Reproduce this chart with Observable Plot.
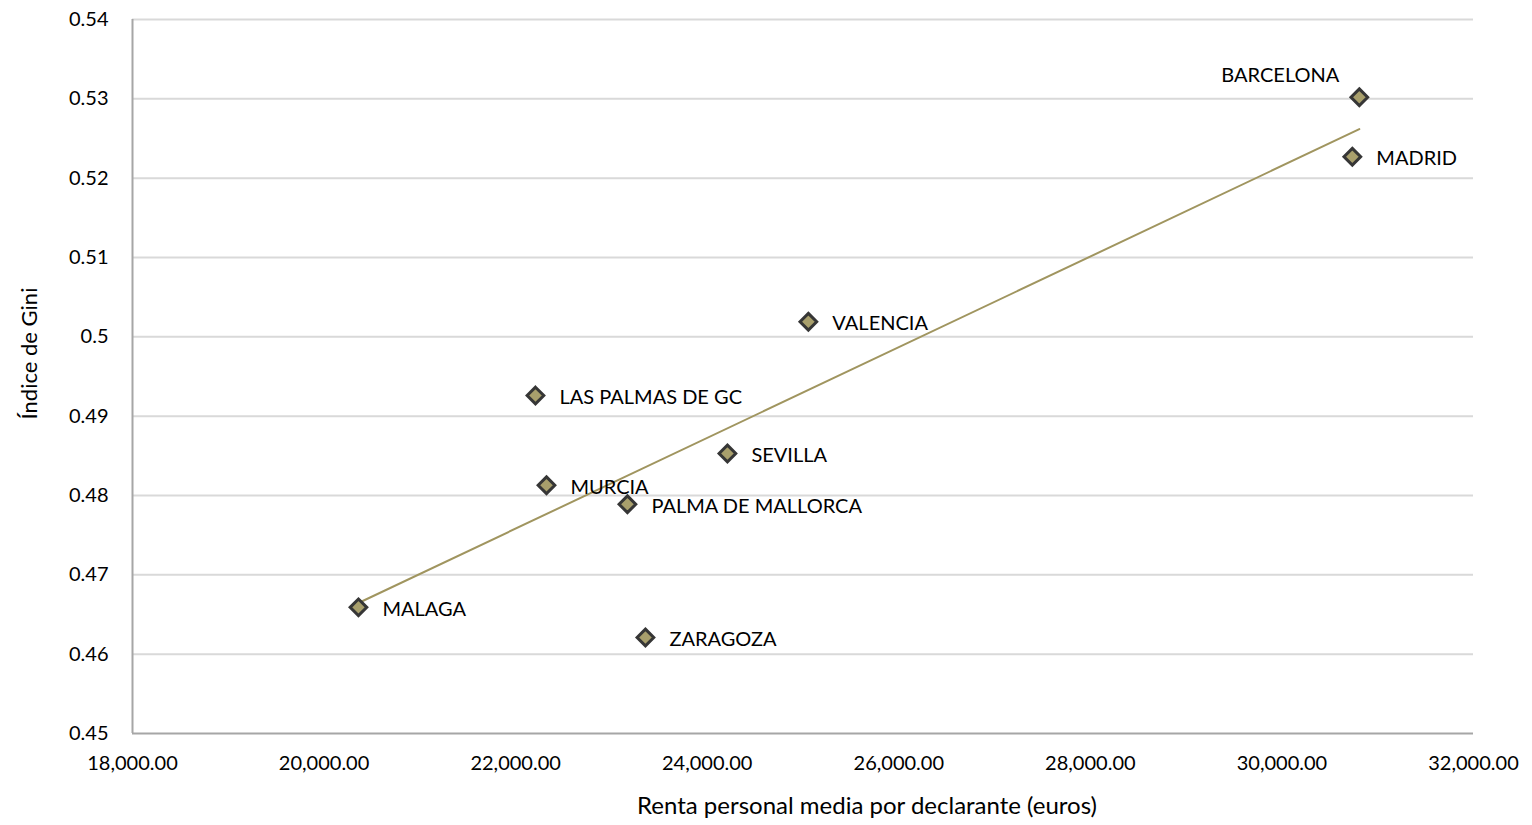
<!DOCTYPE html>
<html><head><meta charset="utf-8">
<script src="https://cdn.jsdelivr.net/npm/d3@7"></script>
<script src="https://cdn.jsdelivr.net/npm/@observablehq/plot@0.6"></script>
<style>body{margin:0;background:#fff;} svg{display:block;}</style>
</head><body><div id="chart"></div>
<script>
const cities = ["BARCELONA","MADRID","VALENCIA","LAS PALMAS DE GC","SEVILLA","MURCIA","PALMA DE MALLORCA","MALAGA","ZARAGOZA"];
const renta = [30808, 30735, 25056, 22207, 24211, 22322, 23167, 20359, 23355];
const gini = [0.5302, 0.5227, 0.5019, 0.4926, 0.4853, 0.4813, 0.4789, 0.4659, 0.4621];
const xTicks = [18000,20000,22000,24000,26000,28000,30000,32000];
const yTicks = [0.45,0.46,0.47,0.48,0.49,0.5,0.51,0.52,0.53,0.54];
const xTitle = "Renta personal media por declarante (euros)";
const yTitle = "Índice de Gini";

const data = cities.map((c,i)=>({city:c, x:renta[i], y:gini[i]}));
const fmtX = d3.format(",.2f");
const fmtY = d => String(+d.toFixed(2));

const chart = Plot.plot({
  width: 1532, height: 825,
  marginLeft: 132, marginRight: 59, marginTop: 19, marginBottom: 92,
  style: {fontFamily: "Lato, 'Open Sans', sans-serif", fontSize: "20px", color: "#000", background: "#fff"},
  x: {domain: [18000, 32000]},
  y: {domain: [0.45, 0.54]},
  marks: [
    Plot.ruleY(yTicks.filter(d=>d>0.45), {stroke: "#d9d9d9", strokeWidth: 2}),
    Plot.axisY({ticks: yTicks, tickFormat: fmtY, tickSize: 0, tickPadding: 24, label: null, fontSize: 20}),
    Plot.axisX({ticks: xTicks, tickFormat: fmtX, tickSize: 0, tickPadding: 22, label: null, fontSize: 20}),
    Plot.text([yTitle], {frameAnchor: "left", textAnchor: "middle", lineAnchor: "middle", rotate: -90, dx: -103, dy: -23, fontSize: 22, fill: "#000"}),
    Plot.text([xTitle], {frameAnchor: "bottom", textAnchor: "middle", lineAnchor: "middle", dx: 64, dy: 73, fontSize: 24, fill: "#000"}),
    Plot.ruleX([18000], {stroke: "#a6a6a6", strokeWidth: 2}),
    Plot.ruleY([0.45], {stroke: "#a6a6a6", strokeWidth: 2}),
    Plot.linearRegressionY(data, {x: "x", y: "y", ci: 0, stroke: "#a0955f", strokeWidth: 2}),
    Plot.dot(data, {x: "x", y: "y", symbol: "diamond2", r: 7.5, fill: "#a89f6c", stroke: "#363636", strokeWidth: 3}),
    Plot.text(data, {filter: d => d.city !== "BARCELONA", x: "x", y: "y", text: "city", textAnchor: "start", dx: 24, dy: 2, fill: "#000"}),
    Plot.text(data, {filter: d => d.city === "BARCELONA", x: "x", y: "y", text: "city", textAnchor: "end", dx: -20, dy: -22, fill: "#000"})
  ]
});
document.getElementById("chart").appendChild(chart);
</script>
</body></html>
